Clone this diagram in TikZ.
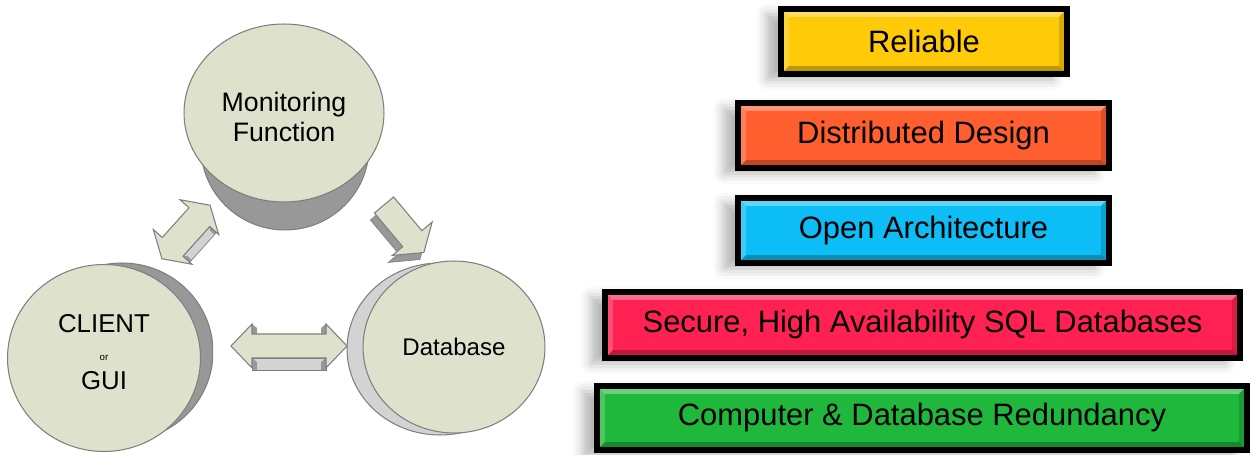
\documentclass[tikz,border=0pt]{standalone}
\usepackage{fontspec}
\setmainfont{Liberation Sans}
\usepackage{tikz}
\usetikzlibrary{shapes,shadows.blur,calc}

\definecolor{discfill}{HTML}{DEE1CB}
\definecolor{discline}{HTML}{7F7F7F}
\definecolor{sidedark}{HTML}{989898}
\definecolor{sidelight}{HTML}{D3D3D3}
\definecolor{relyellow}{HTML}{FFCA08}
\definecolor{distorange}{HTML}{FF5E2E}
\definecolor{openblue}{HTML}{0DBEF6}
\definecolor{securered}{HTML}{FF2152}
\definecolor{redugreen}{HTML}{1FB83C}

\tikzset{
   disc node/.style={ellipse,fill=discfill,draw=discline,line width=0.6pt,inner sep=0pt,align=center},
   side node/.style={ellipse,draw=discline,line width=0.6pt,inner sep=0pt},
   disc text/.style={align=center,inner sep=0pt},
   block arrow/.style={fill=discfill,draw=discline,line width=0.6pt},
   arrow side/.style={draw=discline,line width=0.4pt},
   tier node/.style={rectangle,draw=black,line width=0.12cm,inner sep=0pt,minimum height=1.3cm,
      font=\fontsize{17.6}{20}\selectfont,
      blur shadow={shadow xshift=-8pt,shadow yshift=-3pt,shadow blur radius=6pt,shadow opacity=30},
      path picture={
        \fill[white,opacity=0.35] (path picture bounding box.north west) -- (path picture bounding box.north east)
          -- ([shift={(-4.5pt,-4.5pt)}]path picture bounding box.north east) -- ([shift={(4.5pt,-4.5pt)}]path picture bounding box.north west) -- cycle;
        \fill[white,opacity=0.2] (path picture bounding box.north west) -- ([shift={(4.5pt,-4.5pt)}]path picture bounding box.north west)
          -- ([shift={(4.5pt,4.5pt)}]path picture bounding box.south west) -- (path picture bounding box.south west) -- cycle;
        \fill[black,opacity=0.25] (path picture bounding box.south west) -- (path picture bounding box.south east)
          -- ([shift={(-4.5pt,4.5pt)}]path picture bounding box.south east) -- ([shift={(4.5pt,4.5pt)}]path picture bounding box.south west) -- cycle;
        \fill[black,opacity=0.15] (path picture bounding box.north east) -- (path picture bounding box.south east)
          -- ([shift={(-4.5pt,4.5pt)}]path picture bounding box.south east) -- ([shift={(-4.5pt,-4.5pt)}]path picture bounding box.north east) -- cycle;
      }}
}

\begin{document}
\begin{tikzpicture}[x=0.02cm,y=-0.02cm]
\useasboundingbox (0,0) rectangle (1252,455);

% monitoring
\node[side node,fill=sidedark,minimum width=3.36cm,minimum height=3.32cm] (monitorback) at (285,147) {};
\node[disc node,minimum width=4cm,minimum height=3.56cm] (monitor) at (284,113) {};
\node[disc text,font=\fontsize{15.2}{17}\selectfont] (monitortext) at (284,117) {Monitoring\\Function};

% client
\begin{scope}
\clip (0,0) rectangle (213,455);
\node[side node,fill=sidedark,minimum width=3.64cm,minimum height=3.56cm] (clientback) at (122,352) {};
\end{scope}
\node[disc node,minimum width=3.86cm,minimum height=3.74cm] (client) at (104,358) {};
\node[disc text,font=\fontsize{14.7}{16.2}\selectfont] (clienttext) at (104,352)
  {CLIENT\\{\fontsize{5.5}{6}\selectfont or}\\GUI};

% database
\node[side node,fill=sidelight,minimum width=3.72cm,minimum height=3.44cm] (dbback) at (440,349) {};
\node[disc node,minimum width=3.64cm,minimum height=3.44cm,font=\fontsize{13.7}{16}\selectfont] (db) at (454,347) {Database};

% client <-> monitoring
\begin{scope}[shift={(186,232)},rotate=48]
\fill[sidelight,arrow side] (-20,14) -- (20,14) -- (20,23) -- (-20,23) -- cycle;
\fill[sidedark] (20,14) -- (17,17) -- (17,23) -- (20,23) -- cycle;
\fill[sidedark] (-20,14) -- (-17,17) -- (-17,23) -- (-20,23) -- cycle;
\draw[block arrow] (36,0) -- (20,-26) -- (20,-14) -- (-20,-14) -- (-20,-26) -- (-36,0)
  -- (-20,26) -- (-20,14) -- (20,14) -- (20,26) -- cycle;
\end{scope}

% monitoring -> database
\begin{scope}[shift={(380,212)},rotate=-50]
\fill[sidedark,arrow side] (0,-12.5) -- (44,-12.5) -- (44,-26) -- (62,0) -- (44,26) -- (44,12.5) -- (0,12.5) -- cycle;
\end{scope}
\begin{scope}[shift={(384,205)},rotate=-50]
\draw[block arrow] (0,-12.5) -- (44,-12.5) -- (44,-26) -- (62,0) -- (44,26) -- (44,12.5) -- (0,12.5) -- cycle;
\end{scope}

% client <-> database
\fill[sidelight,arrow side] (252,358) rectangle (326,370);
\fill[sidedark] (252,358) -- (257,362) -- (257,370) -- (252,370) -- cycle;
\fill[sidedark] (326,358) -- (321,362) -- (321,370) -- (326,370) -- cycle;
\fill[sidedark] (252,324) -- (257,328) -- (257,334) -- (252,334) -- cycle;
\fill[sidedark] (326,324) -- (321,328) -- (321,334) -- (326,334) -- cycle;
\draw[block arrow] (231,346) -- (252,324) -- (252,334) -- (326,334) -- (326,324) -- (347,346)
  -- (326,368) -- (326,358) -- (252,358) -- (252,368) -- cycle;

% tiers
\node[tier node,fill=relyellow,minimum width=5.72cm] (reliable) at (924,41.5) {Reliable};
\node[tier node,fill=distorange,minimum width=7.42cm] (distributed) at (923.5,135.5) {Distributed Design};
\node[tier node,fill=openblue,minimum width=7.42cm] (open) at (923.5,230.5) {Open Architecture};
\node[tier node,fill=securered,minimum width=12.7cm,minimum height=1.32cm] (secure) at (922.5,325) {Secure, High Availability SQL Databases};
\node[tier node,fill=redugreen,minimum width=13cm,minimum height=1.28cm] (redundancy) at (922,418) {Computer \& Database Redundancy};

\end{tikzpicture}
\end{document}
